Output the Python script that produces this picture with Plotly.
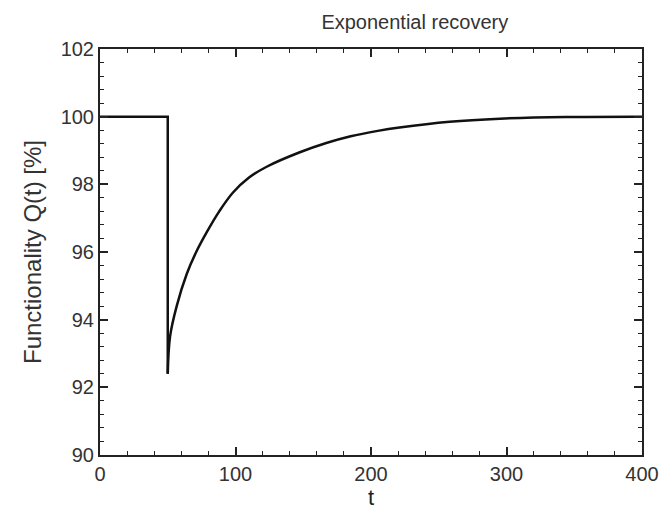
import plotly.graph_objects as go

# Step part (before disruption)
t_step = [0, 50, 50]
q_step = [100, 100, 92.4]

# Recovery part
t_rec = [50, 51.7, 56.6, 64, 71, 79, 88, 98, 110, 123, 147, 167, 185, 205, 221, 258, 295, 344, 400]
q_rec = [92.4, 93.5, 94.4, 95.35, 96.0, 96.6, 97.2, 97.75, 98.2, 98.52, 98.94, 99.22, 99.42, 99.58, 99.68, 99.85, 99.94, 99.99, 100]

title_text = "Exponential recovery"
x_title = "t"
y_title = "Functionality Q(t) [%]"

FONT = "Liberation Sans, Arial, sans-serif"

fig = go.Figure()
fig.add_trace(go.Scatter(x=t_step, y=q_step, mode="lines",
                         line=dict(color="#111111", width=2.5), showlegend=False))
fig.add_trace(go.Scatter(x=t_rec, y=q_rec, mode="lines", line_shape="spline",
                         line=dict(color="#111111", width=2.5), showlegend=False))

axis_common = dict(
    showgrid=False, zeroline=False, showline=True, linecolor="#222222", linewidth=2,
    mirror="ticks", ticks="inside", ticklen=8, tickwidth=1.5, tickcolor="#222222",
    tickfont=dict(family=FONT, size=20, color="#333333"),
)

fig.update_layout(
    width=668, height=510,
    margin=dict(l=92, r=34, t=41, b=63),
    paper_bgcolor="white", plot_bgcolor="white",
    title=dict(text=title_text, x=0.609, xanchor="center", y=0.972, yanchor="middle",
               font=dict(family=FONT, size=20, color="#333333")),
    xaxis=dict(range=[0, 400], dtick=100,
               minor=dict(dtick=20, ticks="inside", ticklen=4, tickcolor="#222222", tickwidth=1.2),
               title=dict(text=x_title, standoff=0, font=dict(family=FONT, size=22, color="#222222")),
               **axis_common),
    yaxis=dict(range=[90, 102], dtick=2,
               minor=dict(dtick=0.4, ticks="inside", ticklen=4, tickcolor="#222222", tickwidth=1.2),
               title=dict(text=y_title, standoff=12, font=dict(family=FONT, size=24, color="#333333")),
               **axis_common),
)

fig.write_html("out.html")
